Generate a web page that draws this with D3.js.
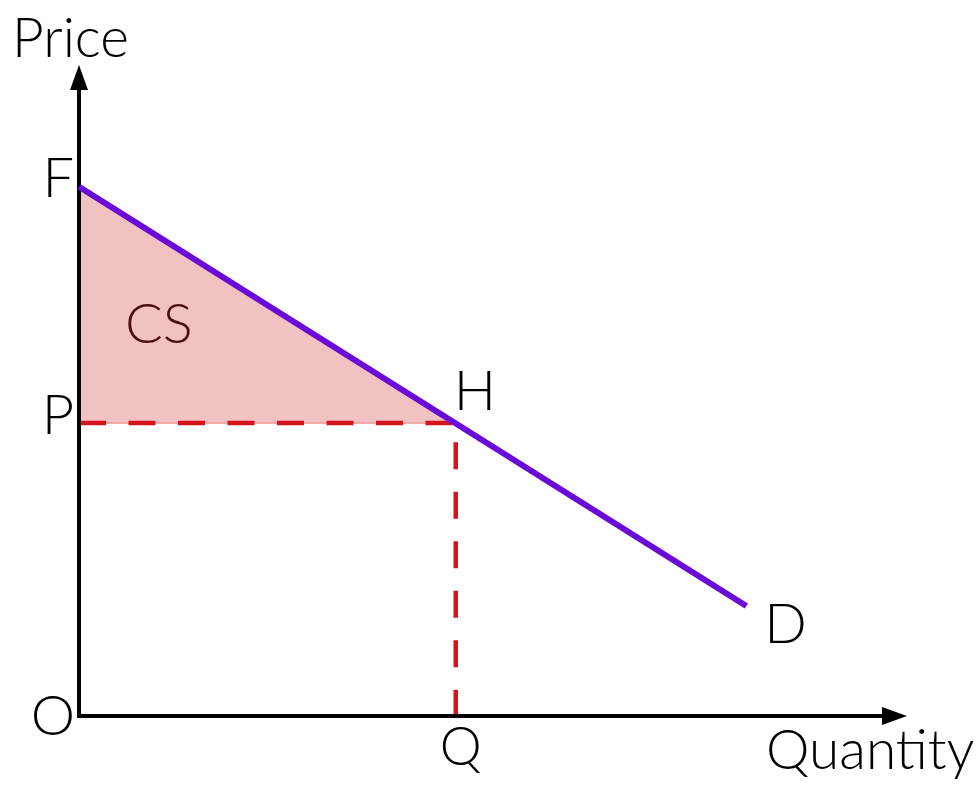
<!DOCTYPE html>
<html lang="en">
<head>
    <meta charset="UTF-8">
    <script src="https://d3js.org/d3.v7.min.js"></script>
    <title>Consumer surplus</title>
    <style>
        body { margin: 0; background: #fff; }
        text { font-family: Lato, "Open Sans", sans-serif; font-weight: 300; fill: #000; }
    </style>
</head>
<body>
    <div id="chart"></div>
    <script>
        // values (axis units 0..10)
        const demandQ = [0, 8.06];
        const demandP = [8.13, 1.69];
        const eqQ = 4.55;
        const eqP = 4.5;
        const axisMax = 10;

        const width = 976, height = 788;
        const origin = {x: 79, y: 716};

        const svg = d3.select("#chart")
            .append("svg")
                .attr("width", width)
                .attr("height", height);

        const x = d3.scaleLinear().domain([0, axisMax]).range([origin.x, 907]);
        const y = d3.scaleLinear().domain([0, axisMax]).range([origin.y, 65]);

        // consumer surplus triangle
        const cs = [[0, demandP[0]], [eqQ, eqP], [0, eqP]];
        svg.append("path")
            .datum(cs)
            .attr("fill", "#f2c1c1")
            .attr("stroke", "#f4a8a8")
            .attr("stroke-width", 2)
            .attr("d", d3.line().x(d => x(d[0])).y(d => y(d[1])).curve(d3.curveLinearClosed));

        // dashed guide lines
        svg.append("path")
            .datum([[0, eqP], [eqQ, eqP], [eqQ, 0]])
            .attr("fill", "none")
            .attr("stroke", "#d4141c")
            .attr("stroke-width", 4.5)
            .attr("stroke-dasharray", "27,22.5")
            .attr("d", d3.line().x(d => x(d[0])).y(d => y(d[1])));

        // axes
        svg.append("line")
            .attr("x1", x(0)).attr("y1", y(0))
            .attr("x2", x(0)).attr("y2", y(axisMax) + 20)
            .attr("stroke", "#000").attr("stroke-width", 4);
        svg.append("path")
            .attr("d", `M${x(0)},${y(axisMax)} L${x(0) - 9},${y(axisMax) + 25} L${x(0) + 9},${y(axisMax) + 25} Z`)
            .attr("fill", "#000");
        svg.append("line")
            .attr("x1", x(0) - 2).attr("y1", y(0))
            .attr("x2", x(axisMax) - 20).attr("y2", y(0))
            .attr("stroke", "#000").attr("stroke-width", 4);
        svg.append("path")
            .attr("d", `M${x(axisMax)},${y(0)} L${x(axisMax) - 25},${y(0) - 9} L${x(axisMax) - 25},${y(0) + 9} Z`)
            .attr("fill", "#000");

        // demand curve
        svg.append("path")
            .datum(demandQ.map((q, i) => [q, demandP[i]]))
            .attr("fill", "none")
            .attr("stroke", "#6a0ad8")
            .attr("stroke-width", 6)
            .attr("d", d3.line().x(d => x(d[0])).y(d => y(d[1])));

        // labels
        const big = 56, small = 55;
        const label = (t, px, py, size, anchor, color) => svg.append("text")
            .attr("x", px).attr("y", py)
            .attr("font-size", size)
            .attr("text-anchor", anchor || "start")
            .style("fill", color || "#000")
            .text(t);

        label("Price", 12, 57, small);
        label("Quantity", 766, 769, small);
        label("F", x(0) - 5, y(demandP[0]) + 10, big, "end");
        label("P", x(0) - 5, y(eqP) + 11, big, "end");
        label("O", x(0) - 26, 735, big, "middle");
        label("Q", x(eqQ) + 5, 765, 53, "middle");
        label("H", x(eqQ) - 2, y(eqP) - 13, big);
        label("D", x(demandQ[1]) + 18, y(demandP[1]) + 37, big);
        label("CS", 125, 343, big, "start", "#4a1010");
    </script>
</body>
</html>
